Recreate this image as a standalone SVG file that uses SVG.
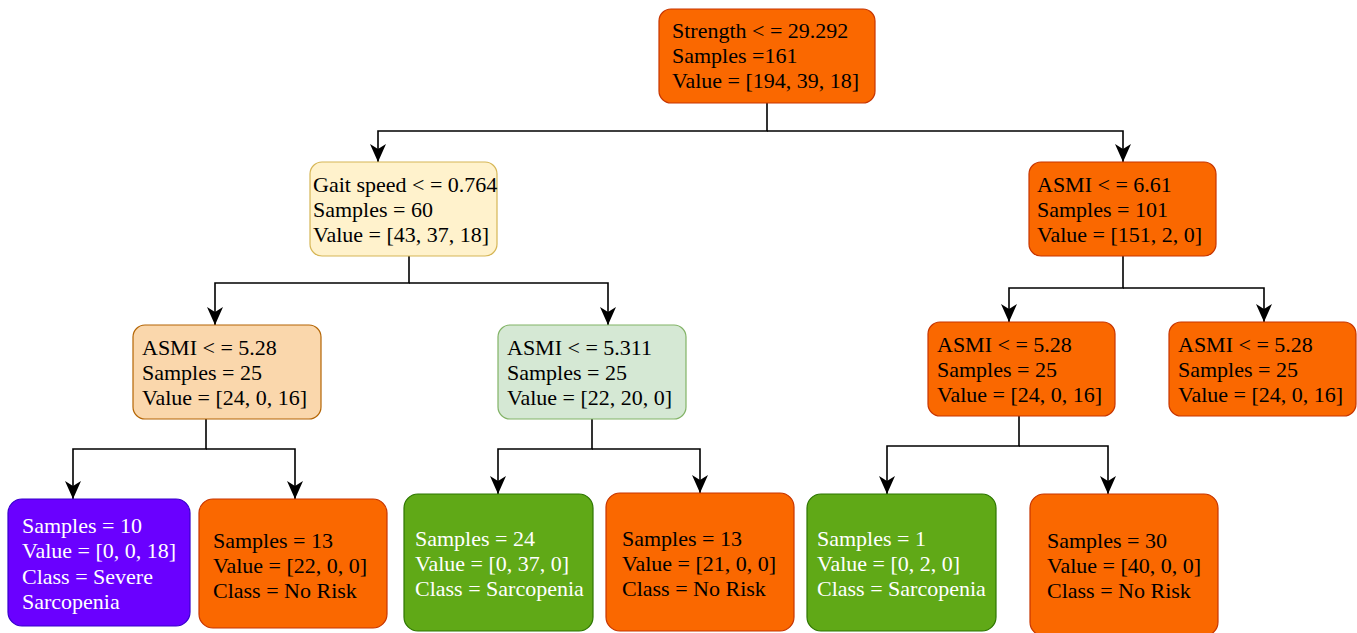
<svg xmlns="http://www.w3.org/2000/svg" width="1357" height="633" viewBox="0 0 1357 633">
<style>
text{font-family:"Liberation Serif","Times New Roman",serif;font-size:22px;fill:#000}
.w text{fill:#fff}
.or rect{fill:#fa6800;stroke:#c73500;stroke-width:1.2}
.ye rect{fill:#fff2cc;stroke:#d6b656;stroke-width:1.2}
.pe rect{fill:#fad7ac;stroke:#b46504;stroke-width:1.2}
.gl rect{fill:#d5e8d4;stroke:#82b366;stroke-width:1.2}
.gr rect{fill:#60a917;stroke:#2d7600;stroke-width:1.2}
.pu rect{fill:#6a00ff;stroke:#3700cc;stroke-width:1.2}
.c path{fill:none;stroke:#000;stroke-width:1.6}
</style>
<defs>
<marker id="ah" markerUnits="userSpaceOnUse" markerWidth="18" markerHeight="16" refX="18" refY="8" orient="auto" viewBox="0 0 18 16">
<path d="M0,0 L18,8 L0,16 L5,8 Z" fill="#000"/>
</marker>
</defs>
<g class="c" id="connectors">
<path d="M767,103 V131 H378 V162" marker-end="url(#ah)"/>
<path d="M767,131 H1123 V162" marker-end="url(#ah)"/>
<path d="M409,256 V283 H215 V325" marker-end="url(#ah)"/>
<path d="M409,283 H608 V325" marker-end="url(#ah)"/>
<path d="M1123,256 V288 H1009 V322" marker-end="url(#ah)"/>
<path d="M1123,288 H1264 V322" marker-end="url(#ah)"/>
<path d="M206,419 V449 H73 V499" marker-end="url(#ah)"/>
<path d="M206,449 H295 V499" marker-end="url(#ah)"/>
<path d="M592,419 V449 H498 V494" marker-end="url(#ah)"/>
<path d="M592,449 H700 V493" marker-end="url(#ah)"/>
<path d="M1019,416 V446 H887 V494" marker-end="url(#ah)"/>
<path d="M1019,446 H1108 V494" marker-end="url(#ah)"/>
</g>
<g id="root" class="or">
<rect x="659" y="9" width="216" height="94" rx="12"/>
<text x="672" y="38">Strength &lt; = 29.292</text>
<text x="672" y="63">Samples =161</text>
<text x="672" y="88">Value = [194, 39, 18]</text>
</g>
<g id="gait" class="ye">
<rect x="310" y="162" width="187" height="94" rx="12"/>
<text x="313" y="192">Gait speed &lt; = 0.764</text>
<text x="313" y="217">Samples = 60</text>
<text x="313" y="242">Value = [43, 37, 18]</text>
</g>
<g id="asmi661" class="or">
<rect x="1029" y="162" width="187" height="94" rx="12"/>
<text x="1037" y="192">ASMI &lt; = 6.61</text>
<text x="1037" y="217">Samples = 101</text>
<text x="1037" y="242">Value = [151, 2, 0]</text>
</g>
<g id="asmi528a" class="pe">
<rect x="133" y="325" width="188" height="94" rx="12"/>
<text x="142" y="355">ASMI &lt; = 5.28</text>
<text x="142" y="380">Samples = 25</text>
<text x="142" y="405">Value = [24, 0, 16]</text>
</g>
<g id="asmi5311" class="gl">
<rect x="498" y="325" width="188" height="94" rx="12"/>
<text x="507" y="355">ASMI &lt; = 5.311</text>
<text x="507" y="380">Samples = 25</text>
<text x="507" y="405">Value = [22, 20, 0]</text>
</g>
<g id="asmi528b" class="or">
<rect x="928" y="322" width="187" height="94" rx="12"/>
<text x="937" y="352">ASMI &lt; = 5.28</text>
<text x="937" y="377">Samples = 25</text>
<text x="937" y="402">Value = [24, 0, 16]</text>
</g>
<g id="asmi528c" class="or">
<rect x="1169" y="322" width="187" height="94" rx="12"/>
<text x="1178" y="352">ASMI &lt; = 5.28</text>
<text x="1178" y="377">Samples = 25</text>
<text x="1178" y="402">Value = [24, 0, 16]</text>
</g>
<g id="leaf1" class="pu w">
<rect x="8" y="499" width="182" height="127" rx="14"/>
<text x="22" y="533">Samples = 10</text>
<text x="22" y="558">Value = [0, 0, 18]</text>
<text x="22" y="584">Class = Severe</text>
<text x="22" y="609">Sarcopenia</text>
</g>
<g id="leaf2" class="or">
<rect x="199" y="499" width="188" height="129" rx="14"/>
<text x="213" y="548">Samples = 13</text>
<text x="213" y="573">Value = [22, 0, 0]</text>
<text x="213" y="598">Class = No Risk</text>
</g>
<g id="leaf3" class="gr w">
<rect x="404" y="494" width="189" height="137" rx="14"/>
<text x="415" y="546">Samples = 24</text>
<text x="415" y="571">Value = [0, 37, 0]</text>
<text x="415" y="596">Class = Sarcopenia</text>
</g>
<g id="leaf4" class="or">
<rect x="606" y="493" width="188" height="138" rx="14"/>
<text x="622" y="546">Samples = 13</text>
<text x="622" y="571">Value = [21, 0, 0]</text>
<text x="622" y="596">Class = No Risk</text>
</g>
<g id="leaf5" class="gr w">
<rect x="807" y="494" width="189" height="137" rx="14"/>
<text x="817" y="546">Samples = 1</text>
<text x="817" y="571">Value = [0, 2, 0]</text>
<text x="817" y="596">Class = Sarcopenia</text>
</g>
<g id="leaf6" class="or">
<rect x="1030" y="494" width="188" height="142" rx="14"/>
<text x="1047" y="548">Samples = 30</text>
<text x="1047" y="573">Value = [40, 0, 0]</text>
<text x="1047" y="598">Class = No Risk</text>
</g>
</svg>
